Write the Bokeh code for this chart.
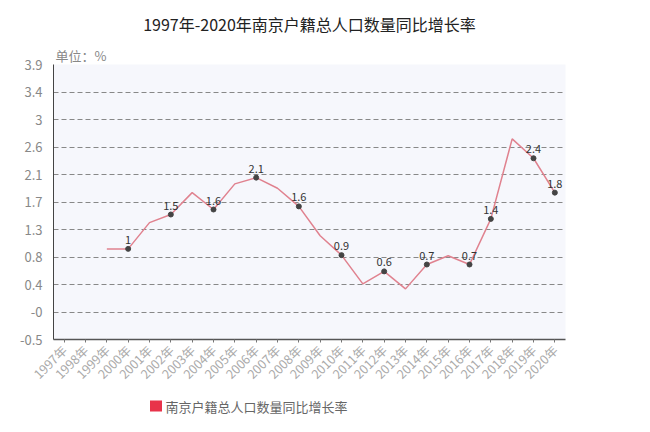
import math
from bokeh.plotting import figure
from bokeh.layouts import column
from bokeh.models import FixedTicker, ColumnDataSource, Title, Range1d
from bokeh.core.properties import value
from bokeh.embed import file_html
from bokeh.resources import INLINE

years = [f"{y}年" for y in range(1997, 2021)]
rate_years = [f"{y}年" for y in range(1999, 2021)]
rates = [0.95, 0.95, 1.37, 1.50, 1.85, 1.58, 1.99, 2.09, 1.92, 1.63, 1.16,
         0.85, 0.39, 0.59, 0.31, 0.70, 0.84, 0.70, 1.43, 2.71, 2.40, 1.85]
mark_years = ["2000年", "2002年", "2004年", "2006年", "2008年", "2010年",
              "2012年", "2014年", "2016年", "2017年", "2019年", "2020年"]
mark_labels = ["1", "1.5", "1.6", "2.1", "1.6", "0.9", "0.6", "0.7", "0.7",
               "1.4", "2.4", "1.8"]
y_ticks = [-0.5, -0.06, 0.38, 0.82, 1.26, 1.7, 2.14, 2.58, 3.02, 3.46, 3.9]
y_tick_labels = ["-0.5", "-0", "0.4", "0.8", "1.3", "1.7", "2.1", "2.6", "3", "3.4", "3.9"]
title_text = "1997年-2020年南京户籍总人口数量同比增长率"
series_name = "南京户籍总人口数量同比增长率"
unit_text = "单位：%"

rate_map = dict(zip(rate_years, rates))
mark_vals = [rate_map[y] for y in mark_years]

FONT = "Noto Sans CJK SC"
LEFT, RIGHT = 53, 85

p = figure(width=650, height=392, x_range=years, y_range=(-0.5, 3.9),
           output_backend="svg", toolbar_location=None,
           min_border_left=LEFT, min_border_right=RIGHT, min_border_top=64,
           min_border_bottom=52)
p.border_fill_color = "white"
p.outline_line_color = None
p.background_fill_color = "#f6f7fc"

# title
p.title.text = title_text
p.title.align = "center"
p.title.text_font_size = "16px"
p.title.text_font = FONT
p.title.text_font_style = "normal"
p.title.text_color = "#222222"
p.title.standoff = 16

# unit label as a second (left aligned) title right above the frame
p.add_layout(Title(text=unit_text, align="left", offset=2, standoff=0,
                   text_font_size="13px", text_font=FONT,
                   text_font_style="normal", text_color="#888888"), "above")

# line and markers
p.line(rate_years, rates, line_color="#e0828f", line_width=1.5)
src = ColumnDataSource(dict(x=mark_years, y=mark_vals, t=mark_labels))
p.scatter("x", "y", source=src, size=5, marker="circle",
          fill_color="#444444", line_color="#444444")
p.text("x", "y", text="t", source=src, text_align="center",
       text_baseline="bottom", y_offset=-5, text_font_size="11px",
       text_color="#333333", text_font=value(FONT))

# axes
p.yaxis.ticker = FixedTicker(ticks=y_ticks)
p.yaxis.major_label_overrides = {t: l for t, l in zip(y_ticks, y_tick_labels)}
p.yaxis.major_tick_line_color = None
p.yaxis.minor_tick_line_color = None
p.yaxis.axis_line_color = "#444444"
p.yaxis.major_label_text_color = "#888888"
p.yaxis.major_label_text_font_size = "13px"
p.yaxis.major_label_text_font = FONT
p.yaxis.major_label_standoff = 5

p.xaxis.major_label_orientation = math.pi / 4
p.xaxis.axis_line_color = "#555555"
p.xaxis.axis_line_width = 1.5
p.xaxis.major_tick_line_color = "#777777"
p.xaxis.major_tick_out = 3
p.xaxis.major_tick_in = 0
p.xaxis.major_label_text_color = "#aaaaaa"
p.xaxis.major_label_text_font_size = "12.5px"
p.xaxis.major_label_text_font = FONT
p.xaxis.major_label_standoff = 5

p.xgrid.grid_line_color = None
p.ygrid.grid_line_color = "#888888"
p.ygrid.grid_line_dash = "5 3"
p.ygrid.grid_line_width = 1

# legend strip below the chart; its frame lines up with the chart's frame,
# so its x range is expressed in page pixels over that frame
lg = figure(title=None, width=650, height=40,
            x_range=Range1d(LEFT, 650 - RIGHT), y_range=Range1d(40, 0),
            output_backend="svg", toolbar_location=None,
            x_axis_location=None, y_axis_location=None,
            min_border_left=LEFT, min_border_right=RIGHT,
            min_border_top=0, min_border_bottom=0, outline_line_color=None)
lg.grid.visible = False
lg.border_fill_color = "white"
lg.background_fill_color = "white"
lg.quad(left=[149.5], right=[161.5], top=[8], bottom=[19],
        fill_color="#e8334a", line_color=None)
lg.text(x=[165], y=[13.5], text=[series_name], text_align="left",
        text_baseline="middle", text_font_size="13px", text_color="#666666",
        text_font=value(FONT))

layout = column(p, lg, spacing=0)
open("out.html", "w").write(file_html(layout, INLINE))
